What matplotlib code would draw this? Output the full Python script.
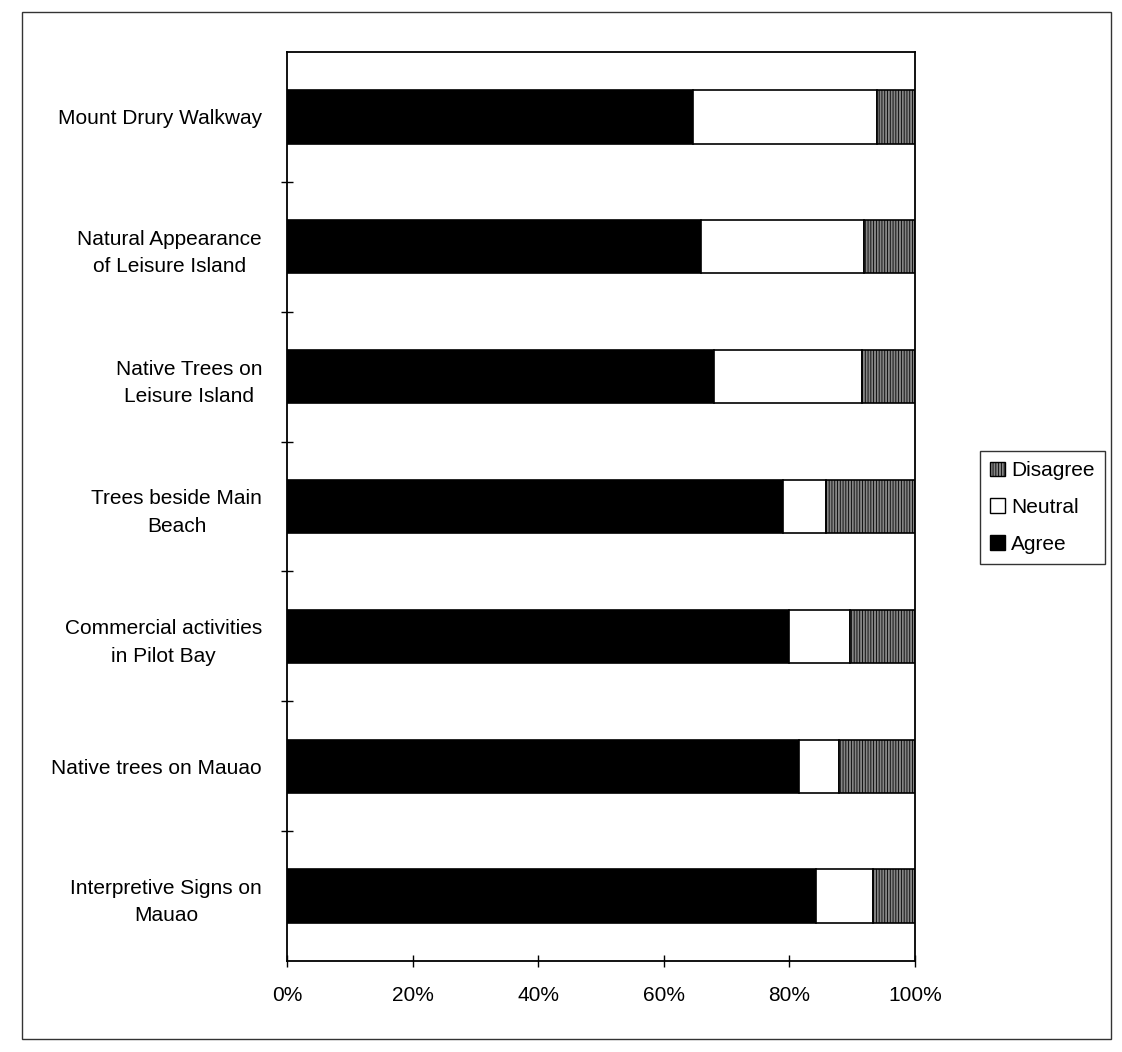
import matplotlib
matplotlib.use("Agg")
import matplotlib.pyplot as plt
from matplotlib.patches import Rectangle, Patch
import numpy as np

plt.rcParams['font.family'] = ['Liberation Sans', 'DejaVu Sans']
plt.rcParams['hatch.linewidth'] = 0.6

# Categories from bottom to top (as drawn by barh)
categories = [
    "Interpretive Signs on\nMauao",
    "Native trees on Mauao",
    "Commercial activities\nin Pilot Bay",
    "Trees beside Main\nBeach",
    "Native Trees on\nLeisure Island",
    "Natural Appearance\nof Leisure Island",
    "Mount Drury Walkway",
]
agree = [84.3, 81.6, 80.0, 79.0, 68.0, 66.0, 64.7]
neutral = [9.0, 6.3, 9.6, 6.8, 23.6, 25.9, 29.3]
disagree = [6.7, 12.1, 10.4, 14.2, 8.4, 8.1, 6.0]
xticks = [0, 20, 40, 60, 80, 100]
xticklabels = ["0%", "20%", "40%", "60%", "80%", "100%"]

DIS_COLOR = '#858585'

fig = plt.figure(figsize=(11.22, 10.52), dpi=100)
fig.patch.set_facecolor('white')

# outer frame
fig.add_artist(Rectangle((0.02, 0.012), 0.97, 0.977, transform=fig.transFigure,
                         fill=False, edgecolor='#333333', linewidth=1.0))

ax = fig.add_axes([0.2558, 0.0865, 0.5597, 0.8641])
y = np.arange(len(categories))
h = 0.41
left2 = np.array(agree) + np.array(neutral)
ax.barh(y, agree, height=h, color='black', edgecolor='black', linewidth=1.2, label='Agree')
ax.barh(y, neutral, left=agree, height=h, color='white', edgecolor='black', linewidth=1.2, label='Neutral')
ax.barh(y, disagree, left=left2, height=h, color=DIS_COLOR, edgecolor='black',
        linewidth=1.2, hatch='||||||', label='Disagree')

ax.set_xlim(0, 100)
ax.set_ylim(-0.5, len(categories) - 0.5)
ax.set_xticks(xticks)
ax.set_xticklabels(xticklabels, fontsize=15)
ax.set_yticks(y)
ax.set_yticklabels(categories, fontsize=15, multialignment='center', linespacing=1.55)
ax.set_yticks(np.arange(len(categories) - 1) + 0.5, minor=True)
ax.tick_params(axis='y', which='major', length=0, pad=18)
ax.tick_params(axis='y', which='minor', length=8, direction='inout', width=1)
ax.tick_params(axis='x', which='major', length=8, direction='inout', width=1, pad=14)
for s in ax.spines.values():
    s.set_linewidth(1.3)
    s.set_color('black')

handles = [
    Patch(facecolor=DIS_COLOR, edgecolor='black', hatch='||||||', label='Disagree'),
    Patch(facecolor='white', edgecolor='black', label='Neutral'),
    Patch(facecolor='black', edgecolor='black', label='Agree'),
]
leg = fig.legend(handles=handles, loc='center', bbox_to_anchor=(0.929, 0.5176),
                 fontsize=15, frameon=True, fancybox=False, edgecolor='black',
                 handlelength=0.7, handleheight=0.7, handletextpad=0.3,
                 labelspacing=0.85, borderpad=0.5, borderaxespad=0)
leg.get_frame().set_linewidth(1.0)

fig.savefig("out.png", dpi=100, facecolor='white')
